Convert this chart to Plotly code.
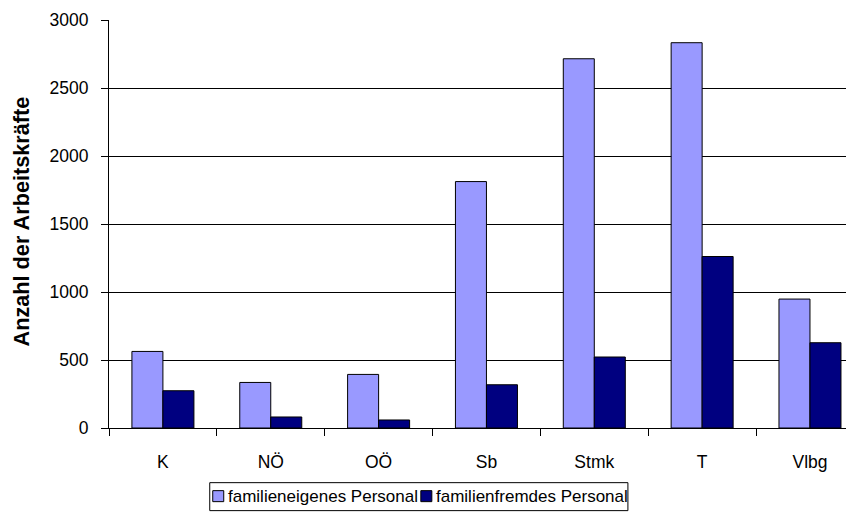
import plotly.graph_objects as go

categories = ["K", "NÖ", "OÖ", "Sb", "Stmk", "T", "Vlbg"]
familieneigen = [563, 335, 394, 1812, 2715, 2833, 948]
familienfremd = [274, 81, 59, 318, 522, 1261, 627]
y_ticks = [0, 500, 1000, 1500, 2000, 2500, 3000]
series_names = ["familieneigenes Personal", "familienfremdes Personal"]
series_colors = ["#9999FF", "#000080"]

# page body has an 8px margin: work in screen pixels and shift
OFF = 8
W, H = 854, 513
REF_L, REF_T, REF_B = 109.3, 20, 428.3   # plot area in screen px
L = REF_L - OFF
T = REF_T - OFF
B = H - (REF_B - OFF)
plot_w = W - L
plot_h = H - T - B
cat_px = 107.8
x_end = -0.5 + plot_w / cat_px

FONT = "Liberation Sans, Arial, sans-serif"


def px_x(sx):
    return (sx - OFF - L) / plot_w


def px_y(sy):
    return (H - B - (sy - OFF)) / plot_h


fig = go.Figure()
for vals, name, col in zip([familieneigen, familienfremd], series_names, series_colors):
    fig.add_trace(go.Bar(
        x=categories, y=vals, name=name,
        marker=dict(color=col, line=dict(color="#000000", width=1)),
    ))

# custom legend (box, swatches, labels) in screen px
shapes = [dict(type="rect", xref="paper", yref="paper",
               x0=px_x(210), x1=px_x(628), y0=px_y(511), y1=px_y(483),
               line=dict(color="black", width=1), fillcolor="white", layer="above")]
annotations = []
sw_x = [213, 421]
for i, (name, col) in enumerate(zip(series_names, series_colors)):
    shapes.append(dict(type="rect", xref="paper", yref="paper",
                       x0=px_x(sw_x[i]), x1=px_x(sw_x[i] + 11),
                       y0=px_y(502), y1=px_y(491),
                       line=dict(color="black", width=1), fillcolor=col, layer="above"))
    annotations.append(dict(text=name, xref="paper", yref="paper",
                            x=px_x(sw_x[i] + 13), y=px_y(497),
                            xanchor="left", yanchor="middle", showarrow=False,
                            font=dict(size=17, family=FONT, color="black")))

annotations.append(dict(
    text="<b>Anzahl der Arbeitskräfte</b>",
    xref="paper", yref="paper",
    x=px_x(22), y=px_y(222),
    xanchor="center", yanchor="middle",
    textangle=-90, showarrow=False,
    font=dict(size=21.7, family=FONT, color="black"),
))

fig.update_layout(
    width=W, height=H,
    margin=dict(l=L, r=0, t=T, b=B, pad=0),
    paper_bgcolor="white", plot_bgcolor="white",
    barmode="group", bargap=0.425, bargroupgap=0,
    font=dict(family=FONT, size=17, color="black"),
    showlegend=False,
    xaxis=dict(
        type="category", range=[-0.5, x_end], automargin=False,
        showline=True, linecolor="black", linewidth=1,
        ticks="outside", tickson="boundaries", ticklen=7, tickcolor="black",
        showgrid=False, tickfont=dict(size=17.5),
        ticklabelstandoff=18,
    ),
    yaxis=dict(
        range=[0, 3000], tickvals=y_ticks, automargin=False,
        showline=True, linecolor="black", linewidth=1,
        ticks="outside", ticklen=7, tickcolor="black",
        showgrid=True, gridcolor="black", gridwidth=1,
        zeroline=False, tickfont=dict(size=17.5),
        ticklabelstandoff=9,
    ),
    shapes=shapes,
    annotations=annotations,
)

fig.write_html("out.html")
